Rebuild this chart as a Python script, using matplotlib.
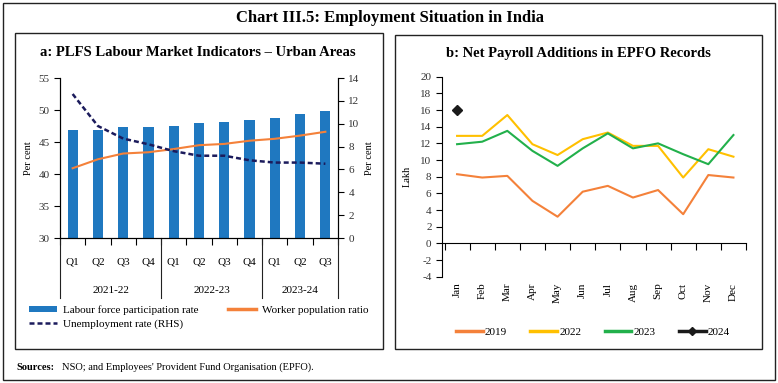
import matplotlib.pyplot as plt
from matplotlib.patches import Rectangle, Patch
from matplotlib.lines import Line2D
import matplotlib.transforms as mtrans

plt.rcParams['font.family'] = ['Liberation Serif', 'DejaVu Serif']
plt.rcParams['axes.unicode_minus'] = False

# ===================== Data =====================
quarters = ['Q1', 'Q2', 'Q3', 'Q4', 'Q1', 'Q2', 'Q3', 'Q4', 'Q1', 'Q2', 'Q3']
years = ['2021-22', '2022-23', '2023-24']
year_bounds = [(-0.5, 3.5), (3.5, 7.5), (7.5, 10.5)]
lfpr = [46.8, 46.8, 47.3, 47.3, 47.5, 47.9, 48.2, 48.5, 48.8, 49.3, 49.9]
wpr = [40.9, 42.3, 43.2, 43.4, 43.9, 44.5, 44.7, 45.2, 45.5, 46.0, 46.6]
ur = [12.6, 9.8, 8.7, 8.2, 7.6, 7.2, 7.2, 6.8, 6.6, 6.6, 6.5]

months = ['Jan', 'Feb', 'Mar', 'Apr', 'May', 'Jun', 'Jul', 'Aug', 'Sep', 'Oct', 'Nov', 'Dec']
epfo_2019 = [8.3, 7.9, 8.1, 5.1, 3.2, 6.2, 6.9, 5.5, 6.4, 3.5, 8.2, 7.9]
epfo_2022 = [12.9, 12.9, 15.4, 11.9, 10.6, 12.5, 13.3, 11.7, 11.7, 7.9, 11.3, 10.4]
epfo_2023 = [11.9, 12.2, 13.5, 11.1, 9.3, 11.4, 13.2, 11.4, 12.0, 10.7, 9.5, 13.0]
epfo_2024 = [16.0]

# ===================== Figure & frames =====================
W, H = 778, 383
fig = plt.figure(figsize=(W / 100, H / 100), dpi=100)

def frame(x0, y0, x1, y1):
    fig.patches.append(Rectangle((x0 / W, 1 - y1 / H), (x1 - x0) / W, (y1 - y0) / H,
                                 transform=fig.transFigure, fill=False,
                                 edgecolor='#222222', linewidth=1.0))

frame(3, 3, 775, 380)
frame(15, 33, 383, 349)
frame(395, 35, 762, 349)

fig.text(390 / W, 1 - 18 / H, 'Chart III.5: Employment Situation in India',
         ha='center', va='center', fontsize=12, fontweight='bold')
fig.text(16 / W, 1 - 367 / H, 'Sources:', ha='left', va='center', fontsize=7.5, fontweight='bold')
fig.text(62 / W, 1 - 367 / H, "NSO; and Employees' Provident Fund Organisation (EPFO).",
         ha='left', va='center', fontsize=7.5)

tick_col = '#333333'
fs = 8

# ===================== Panel a =====================
ax = fig.add_axes([60 / W, 1 - 238 / H, (338 - 60) / W, (238 - 78) / H])
x = list(range(len(quarters)))
ax.bar(x, lfpr, width=0.4, color='#1F78C0', zorder=2)
ax.plot(x, wpr, color='#F4813A', linewidth=1.5, zorder=3)
ax.set_ylim(30, 55)
ax.set_yticks([30, 35, 40, 45, 50, 55])
ax.set_xlim(-0.5, 10.5)
ax.set_xticks([i - 0.5 for i in range(12)])
ax.set_xticklabels([])
ax.tick_params(axis='x', length=5, width=0.8, direction='out')
ax.tick_params(axis='y', length=4, width=0.8, direction='out', labelsize=fs, labelcolor=tick_col)
ax.spines['top'].set_visible(False)
ax.set_ylabel('Per cent', fontsize=7.5, labelpad=4)

ax2 = ax.twinx()
ax2.plot(x, ur, color='#1B1B5C', linewidth=1.8, linestyle=(0, (2, 1.2)), zorder=4)
ax2.set_ylim(0, 14)
ax2.set_yticks(range(0, 15, 2))
ax2.tick_params(axis='y', length=4, width=0.8, direction='out', labelsize=fs, labelcolor=tick_col)
ax2.spines['top'].set_visible(False)
ax2.set_ylabel('Per cent', fontsize=7.5, labelpad=4)

trans = mtrans.blended_transform_factory(ax.transData, ax.transAxes)
for i, q in enumerate(quarters):
    ax.text(i, -0.15, q, transform=trans, ha='center', va='center', fontsize=fs)
for (a, b), yr in zip(year_bounds, years):
    ax.text((a + b) / 2, -0.33, yr, transform=trans, ha='center', va='center', fontsize=fs)
for xb in [-0.5, 3.5, 7.5, 10.5]:
    ax.plot([xb, xb], [0, -0.375], transform=trans, color='#222222', linewidth=0.8, clip_on=False)

handles_a = [Patch(facecolor='#1F78C0', label='Labour force participation rate'),
             Line2D([], [], color='#1B1B5C', linewidth=1.8, linestyle=(0, (2, 1.2)),
                    label='Unemployment rate (RHS)'),
             Line2D([], [], color='#F4813A', linewidth=2.5, label='Worker population ratio')]
fig.legend(handles=handles_a, loc='upper left', bbox_to_anchor=(29 / W, 1 - 305 / H), ncol=2,
           frameon=False, fontsize=8, handlelength=2.5, handleheight=0.5, handletextpad=0.6,
           columnspacing=2.6, labelspacing=0.4, borderaxespad=0, borderpad=0)

fig.text(198 / W, 1 - 53 / H, 'a: PLFS Labour Market Indicators \u2013 Urban Areas',
         ha='center', va='center', fontsize=10.5, fontweight='bold')

# ===================== Panel b =====================
bx = fig.add_axes([442 / W, 1 - 276.7 / H, (746 - 442) / W, (276.7 - 76.7) / H])
m = list(range(len(months)))
bx.plot(m, epfo_2019, color='#F4813A', linewidth=1.5)
bx.plot(m, epfo_2022, color='#FFC000', linewidth=1.5)
bx.plot(m, epfo_2023, color='#22B04B', linewidth=1.5)
bx.plot(m[:len(epfo_2024)], epfo_2024, color='#1A1A1A', marker='D', markersize=5, linestyle='none')
bx.set_ylim(-4, 20)
bx.set_yticks(range(-4, 21, 2))
bx.set_xlim(-0.6, 11.5)
bx.spines['top'].set_visible(False)
bx.spines['right'].set_visible(False)
bx.spines['bottom'].set_position(('data', 0))
bx.set_xticks([i + 0.5 for i in range(-1, 12)])
bx.set_xticklabels([])
bx.tick_params(axis='x', length=5, width=0.8, direction='out')
bx.tick_params(axis='y', length=4, width=0.8, direction='out', labelsize=fs, labelcolor=tick_col)
bx.set_ylabel('Lakh', fontsize=7.5, labelpad=6)
transb = mtrans.blended_transform_factory(bx.transData, bx.transAxes)
for i, mo in enumerate(months):
    bx.text(i, -0.03, mo, transform=transb, ha='center', va='top', rotation=90, fontsize=fs)

handles_b = [Line2D([], [], color='#F4813A', linewidth=2.5, label='2019'),
             Line2D([], [], color='#FFC000', linewidth=2.5, label='2022'),
             Line2D([], [], color='#22B04B', linewidth=2.5, label='2023'),
             Line2D([], [], color='#1A1A1A', linewidth=2.5, marker='D', markersize=4, label='2024')]
fig.legend(handles=handles_b, loc='center', bbox_to_anchor=(593 / W, 1 - 332 / H), ncol=4,
           frameon=False, fontsize=8, handlelength=2.4, handletextpad=0.2,
           columnspacing=2.1, borderaxespad=0, borderpad=0)

fig.text(578 / W, 1 - 54 / H, 'b: Net Payroll Additions in EPFO Records',
         ha='center', va='center', fontsize=10.5, fontweight='bold')

fig.savefig('out.png', dpi=100)
